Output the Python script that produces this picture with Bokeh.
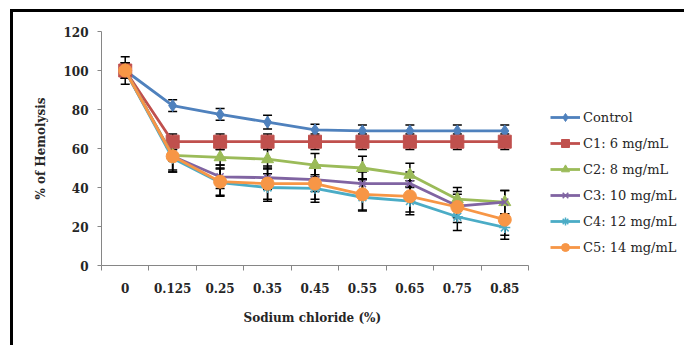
from bokeh.plotting import figure
from bokeh.models import (Range1d, FixedTicker, Whisker, ColumnDataSource, Legend, LegendItem,
                          TeeHead, InlineStyleSheet, Title)
from bokeh.embed import file_html
from bokeh.resources import INLINE

categories = ["0", "0.125", "0.25", "0.35", "0.45", "0.55", "0.65", "0.75", "0.85"]
series_names = ["Control", "C1: 6 mg/mL", "C2: 8 mg/mL", "C3: 10 mg/mL", "C4: 12 mg/mL", "C5: 14 mg/mL"]
control = [100, 82, 77.5, 73.5, 69.5, 69, 69, 69, 69]
c1 = [100, 63.5, 63.5, 63.5, 63.5, 63.5, 63.5, 63.5, 63.5]
c2 = [100, 56.5, 55.5, 54.5, 51.5, 50, 46.5, 34, 32.5]
c3 = [100, 56, 45.5, 45, 44, 42, 42, 30.5, 32.5]
c4 = [100, 55, 42.5, 40, 39.5, 35, 33, 25, 19.5]
c5 = [100, 56, 43, 42, 42, 36.5, 35.5, 30, 23.5]
err_control = [3, 3, 3, 3.5, 3, 3, 3, 3, 3]
err_c1 = [4, 4, 4, 4, 4, 4, 4, 4, 4]
err_c2 = [4, 3, 4, 5, 6, 6, 6, 6, 6]
err_c3 = [4, 8, 6, 6, 6, 6, 6, 6, 6]
err_c4 = [4, 7, 7, 7, 7, 7, 7, 7, 6]
err_c5 = [7, 7, 7, 8, 8, 8, 8, 8, 8]
x_title = "Sodium chloride (%)"
y_title = "% of Hemolysis"

values = [control, c1, c2, c3, c4, c5]
errors = [err_control, err_c1, err_c2, err_c3, err_c4, err_c5]
colors = ["#4F81BD", "#C0504D", "#9BBB59", "#8064A2", "#4BACC6", "#F79646"]
markers = ["diamond", "square", "triangle", "x", "asterisk", "circle"]
msizes = [12, 13, 12, 10, 11, 13]

FONT = "DejaVu Serif"
TXT = "#262626"
AXIS = "#868686"

n = len(categories)
left_px, right_px = 101, 684
cat_px = 427.0 / n                      # width of one category slot on the axis
x_end = -0.5 + (right_px - left_px) / cat_px

p = figure(width=684, height=345, output_backend="svg", toolbar_location=None,
           x_range=Range1d(-0.5, x_end), y_range=Range1d(0, 120),
           min_border_left=left_px, min_border_right=0, min_border_top=31, min_border_bottom=80)
p.outline_line_color = None
p.xgrid.visible = False
p.ygrid.visible = False
p.background_fill_color = "white"
p.border_fill_color = "white"

xs = list(range(n))

items = []
for name, vals, errs, col, mk, ms in zip(series_names, values, errors, colors, markers, msizes):
    src = ColumnDataSource(dict(x=xs, y=vals,
                                lo=[v - e for v, e in zip(vals, errs)],
                                hi=[v + e for v, e in zip(vals, errs)]))
    w = Whisker(source=src, base="x", upper="hi", lower="lo", line_color="black", line_width=1.5,
                upper_head=TeeHead(size=9, line_color="black", line_width=1.5),
                lower_head=TeeHead(size=9, line_color="black", line_width=1.5))
    p.add_layout(w)
    r1 = p.line("x", "y", source=src, line_color=col, line_width=2.8)
    if mk in ("x", "asterisk"):
        r2 = p.scatter("x", "y", source=src, marker=mk, size=ms, line_color=col, line_width=1.5)
    else:
        r2 = p.scatter("x", "y", source=src, marker=mk, size=ms, fill_color=col, line_color=col)
    items.append(LegendItem(label=name, renderers=[r1, r2]))

legend = Legend(items=items, location=(449, 8), glyph_width=30, glyph_height=20, label_height=20,
                spacing=6, padding=0, margin=0, label_standoff=3,
                label_text_font=FONT, label_text_font_size="13px", label_text_color=TXT,
                background_fill_alpha=0, border_line_color=None)
p.add_layout(legend)

# x axis
xa = p.xaxis[0]
xa.bounds = (-0.5, n - 0.5)
xa.ticker = FixedTicker(ticks=xs, minor_ticks=[i - 0.5 for i in range(n + 1)])
xa.major_label_overrides = {i: c for i, c in enumerate(categories)}
xa.major_tick_line_color = None
xa.minor_tick_line_color = AXIS
xa.minor_tick_out = 5
xa.minor_tick_in = 0
xa.axis_line_color = AXIS
xa.major_label_text_font = FONT
xa.major_label_text_font_style = "bold"
xa.major_label_text_font_size = "12px"
xa.major_label_text_color = TXT
xa.major_label_standoff = 11

# x axis title, centred under the category axis only
xt = Title(text=x_title, align="left", offset=142, standoff=26,
           text_font=FONT, text_font_style="bold", text_font_size="12px", text_color=TXT)
p.add_layout(xt, "below")

ya = p.yaxis[0]
ya.ticker = FixedTicker(ticks=[0, 20, 40, 60, 80, 100, 120], minor_ticks=[])
ya.major_tick_line_color = AXIS
ya.major_tick_out = 4
ya.major_tick_in = 0
ya.axis_line_color = AXIS
ya.major_label_text_font = FONT
ya.major_label_text_font_style = "bold"
ya.major_label_text_font_size = "12px"
ya.major_label_text_color = TXT
ya.major_label_standoff = 9
ya.axis_label = y_title
ya.axis_label_text_font = FONT
ya.axis_label_text_font_style = "bold"
ya.axis_label_text_font_size = "12px"
ya.axis_label_text_color = TXT
ya.axis_label_standoff = 12

# outer black frame (left and top edges of the picture's border)
p.stylesheets = [InlineStyleSheet(css="""
:host::after {
  content: '';
  position: absolute;
  left: 10px; top: 9px; right: 0px; bottom: 0px;
  border-left: 3px solid black;
  border-top: 3px solid black;
  pointer-events: none;
  z-index: 10;
}
""")]

open("out.html", "w").write(file_html(p, INLINE))
